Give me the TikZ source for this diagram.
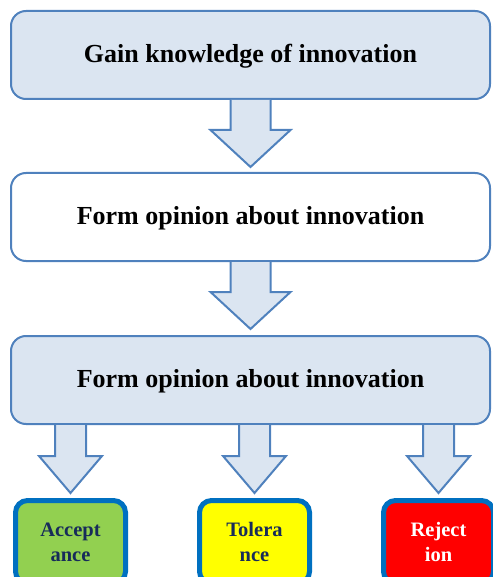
\documentclass[tikz,border=0pt]{standalone}
\usepackage{fontspec}
\setmainfont{Liberation Serif}
\usepackage{tikz}
\usetikzlibrary{positioning, calc}
\definecolor{stepblue}{RGB}{79,129,189}
\definecolor{steplight}{RGB}{219,229,241}
\definecolor{resultblue}{RGB}{0,112,192}
\definecolor{resultnavy}{RGB}{23,43,90}
\definecolor{acceptgreen}{RGB}{146,208,80}
\definecolor{tolyellow}{RGB}{255,255,0}
\definecolor{rejectred}{RGB}{255,0,0}

% block arrow: top point, tip point, shaft half width, head half width
\newcommand{\fatarrow}[4]{%
  \draw[fatarrowstyle] let \p1=#1, \p2=#2 in
    (\x2-#3,\y1) -- (\x2-#3,\y2+37pt) -- (\x2-#4,\y2+37pt) -- (\x2,\y2)
    -- (\x2+#4,\y2+37pt) -- (\x2+#3,\y2+37pt) -- (\x2+#3,\y1);}

\begin{document}
\begin{tikzpicture}[
    x=1pt, y=-1pt,
    stepbox/.style={draw=stepblue, line width=2pt, rounded corners=15pt, minimum width=479pt, minimum height=88pt,
      font=\fontsize{26}{31}\selectfont\bfseries, inner sep=0pt, text height=18pt, text depth=3pt},
    resultbox/.style={draw=resultblue, line width=5pt, rounded corners=12pt, minimum width=110pt, minimum height=83pt,
      font=\fontsize{20.5}{25}\selectfont\bfseries, align=center, text=resultnavy, inner sep=0pt},
    fatarrowstyle/.style={draw=stepblue, fill=steplight, line width=2pt},
  ]
  \useasboundingbox (0,0) rectangle (492,577);
  \node[stepbox, fill=steplight] (know) at (250.5,55) {Gain knowledge of innovation};
  \node[stepbox, fill=white, below=72pt of know] (opinion) {Form opinion about innovation};
  \node[stepbox, fill=steplight, below=73pt of opinion] (decide) {Form opinion about innovation};
  \node[resultbox, fill=acceptgreen, below=73pt of decide.south west, anchor=north west, xshift=3pt] (accept) {Accept\\ance};
  \node[resultbox, fill=tolyellow, right=69pt of accept] (tolerate) {Tolera\\nce};
  \node[resultbox, fill=rejectred, text=white, right=69pt of tolerate] (reject) {Reject\\ion};
  \fatarrow{(know.south)}{($(opinion.north)+(0pt,5pt)$)}{20pt}{40pt}
  \fatarrow{(opinion.south)}{($(decide.north)+(0pt,6pt)$)}{20pt}{40pt}
  \fatarrow{(accept.north |- decide.south)}{($(accept.north)+(0pt,5pt)$)}{15.5pt}{31.5pt}
  \fatarrow{(tolerate.north |- decide.south)}{($(tolerate.north)+(0pt,5pt)$)}{15.5pt}{31.5pt}
  \fatarrow{(reject.north |- decide.south)}{($(reject.north)+(0pt,5pt)$)}{15.5pt}{31.5pt}
\end{tikzpicture}
\end{document}
